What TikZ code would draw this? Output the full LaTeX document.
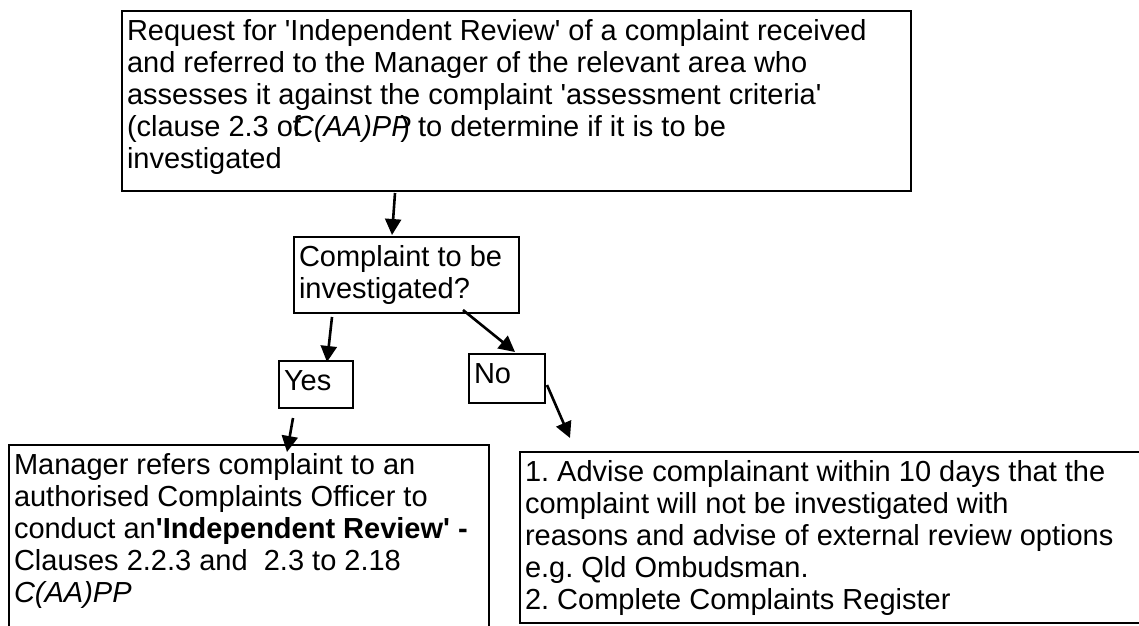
\documentclass[tikz,border=0pt]{standalone}
\usepackage{fontspec}
\setmainfont{Liberation Sans}
\usetikzlibrary{arrows.meta}
\frenchspacing
\newcommand{\sq}{\textquotesingle}
\newcommand{\boxlines}[3]{\parbox[c][#2][t]{#1}{\raggedright\strut#3}}

\begin{document}
\begin{tikzpicture}[x=1pt, y=-1pt,
  every node/.style={font=\fontsize{29}{32}\selectfont},
  box/.style={draw, line width=2pt, anchor=north west, inner xsep=5pt, inner ysep=7pt},
  flow/.style={-{Triangle[length=16pt,width=16pt]}, line width=2.6pt}]
\useasboundingbox (0,0) rectangle (1139,625);
% request and decision
\node[box] (req) at (121,10) {\boxlines{779pt}{166pt}{Request for \sq Independent Review\sq\ of a complaint received\\
and referred to the Manager of the relevant area who\\
assesses it against the complaint \sq assessment criteria\sq\\
(clause 2.3 of\kern-0.28em\textit{C(AA)PP}\kern-0.35em) to determine if it is to be\\
investigated}};
\node[box] (ask) at (293,236) {\boxlines{215pt}{62pt}{Complaint to be\\ investigated?}};
\node[box] (yes) at (278,360) {\boxlines{64pt}{33pt}{Yes}};
\node[box] (no) at (468,353) {\boxlines{66pt}{35pt}{No}};
% outcomes (cut off by the page edge)
\node[box] (mgr) at (8,444) {\boxlines{470pt}{186pt}{Manager refers complaint to an\\
authorised Complaints Officer to\\
conduct an\textbf{\sq Independent Review\sq\ -}\\
Clauses 2.2.3 and\ \ 2.3 to 2.18\\
\textit{C(AA)PP}}};
\node[box] (adv) at (519,451) {\boxlines{650pt}{157pt}{1. Advise complainant within 10 days that the\\
complaint will not be investigated with\\
reasons and advise of external review options\\
e.g. Qld Ombudsman.\\
2. Complete Complaints Register}};
% arrow ends
\coordinate (reqout) at (395,193);
\coordinate (askin) at (392,235);
\coordinate (yesfrom) at (332,317);
\coordinate (yesin) at (327,362);
\coordinate (nofrom) at (463,310);
\coordinate (noin) at (515,352);
\coordinate (yesout) at (293,418);
\coordinate (mgrin) at (287,452);
\coordinate (noout) at (547,385);
\coordinate (advin) at (570,438);
\draw[flow] (reqout) -- (askin);
\draw[flow] (yesfrom) -- (yesin);
\draw[flow] (nofrom) -- (noin);
\draw[flow] (yesout) -- (mgrin);
\draw[flow] (noout) -- (advin);
\end{tikzpicture}
\end{document}
